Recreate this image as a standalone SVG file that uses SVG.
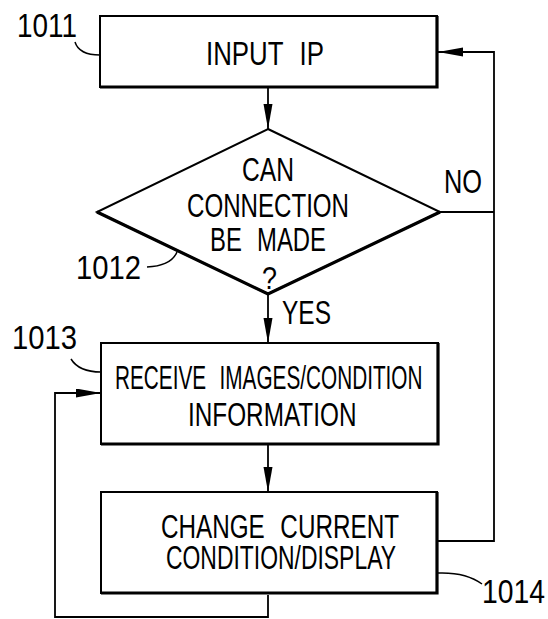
<svg xmlns="http://www.w3.org/2000/svg" width="548" height="619" viewBox="0 0 548 619">
<defs>
<marker id="arr" markerUnits="userSpaceOnUse" markerWidth="26" markerHeight="10" refX="25" refY="4.5" orient="auto" viewBox="0 0 26 10">
<path d="M0,0 L25,4.5 L0,9 z" fill="#000"/>
</marker>
<style>
.box{fill:#fff;stroke:#000;stroke-width:2}
.shade{fill:none;stroke:#000;stroke-width:3.2}
.conn{fill:none;stroke:#000;stroke-width:1.8}
.lead{fill:none;stroke:#000;stroke-width:1.5}
text{font-family:"Liberation Sans",Arial,sans-serif;font-size:33px;fill:#000}
.ws{word-spacing:12px}
</style>
</defs>
<rect width="548" height="619" fill="#fff"/>
<g id="connectors">
<path class="conn" d="M268,88 V129" marker-end="url(#arr)"/>
<path class="conn" d="M268,295 V343" marker-end="url(#arr)"/>
<path class="conn" d="M268,445 V492" marker-end="url(#arr)"/>
<path class="conn" d="M440,212 H494"/>
<path class="conn" d="M438,541 H494 V52 H438" marker-end="url(#arr)"/>
<path class="conn" d="M268,595 V617 H55 V393 H101" marker-end="url(#arr)"/>
</g>
<g id="n1011">
<rect class="box" x="100" y="16" width="337" height="71"/>
<path class="shade" d="M100,87 H437 V16"/>
<text class="ws" transform="translate(206,65) scale(0.847,1)" textLength="139.3" lengthAdjust="spacingAndGlyphs">INPUT IP</text>
<text transform="translate(17,37) scale(0.818,1)" textLength="73.3" lengthAdjust="spacingAndGlyphs">1011</text>
<path class="lead" d="M75,42 Q79,55 100,55"/>
</g>
<g id="n1012">
<polygon class="box" points="268,129 440,212 268,294 97,212"/>
<path class="shade" d="M97,212 L268,294 L440,212"/>
<text transform="translate(242,181) scale(0.746,1)" textLength="69.7" lengthAdjust="spacingAndGlyphs">CAN</text>
<text transform="translate(187,217) scale(0.73,1)" textLength="221.9" lengthAdjust="spacingAndGlyphs">CONNECTION</text>
<text class="ws" transform="translate(210,251) scale(0.781,1)" textLength="148.5" lengthAdjust="spacingAndGlyphs">BE MADE</text>
<text transform="translate(262,289) scale(0.87,1)" style="font-size:31px" textLength="17.2" lengthAdjust="spacingAndGlyphs">?</text>
<text transform="translate(76,279) scale(0.886,1)" textLength="73.4" lengthAdjust="spacingAndGlyphs">1012</text>
<path class="lead" d="M147,267 Q171,266 177,252"/>
<text transform="translate(444,193) scale(0.768,1)" textLength="49.5" lengthAdjust="spacingAndGlyphs">NO</text>
<text transform="translate(282,324) scale(0.742,1)" textLength="66" lengthAdjust="spacingAndGlyphs">YES</text>
</g>
<g id="n1013">
<rect class="box" x="101" y="343" width="337" height="101"/>
<path class="shade" d="M101,444 H438 V343"/>
<text class="ws" transform="translate(115,389) scale(0.642,1)" textLength="479" lengthAdjust="spacingAndGlyphs">RECEIVE IMAGES/CONDITION</text>
<text transform="translate(188,426) scale(0.723,1)" textLength="233" lengthAdjust="spacingAndGlyphs">INFORMATION</text>
<text transform="translate(12,349) scale(0.886,1)" textLength="73.4" lengthAdjust="spacingAndGlyphs">1013</text>
<path class="lead" d="M71,359 Q79,372 101,372"/>
</g>
<g id="n1014">
<rect class="box" x="101" y="492" width="336" height="101"/>
<path class="shade" d="M101,593 H437 V492"/>
<text class="ws" transform="translate(161,538) scale(0.764,1)" textLength="311.5" lengthAdjust="spacingAndGlyphs">CHANGE CURRENT</text>
<text transform="translate(166,569) scale(0.689,1)" textLength="333.8" lengthAdjust="spacingAndGlyphs">CONDITION/DISPLAY</text>
<text transform="translate(482,603) scale(0.858,1)" textLength="73.4" lengthAdjust="spacingAndGlyphs">1014</text>
<path class="lead" d="M438,573 Q466,572 482,584"/>
</g>
</svg>
